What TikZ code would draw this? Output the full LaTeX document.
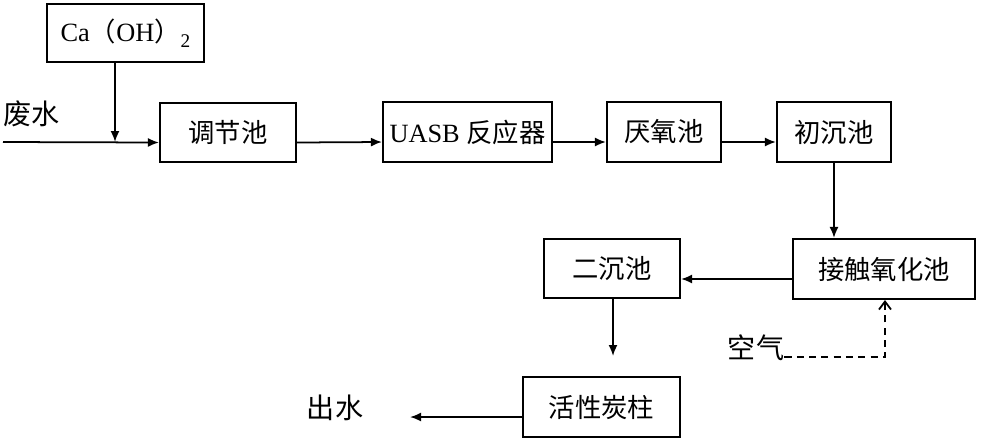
\documentclass[tikz,border=0pt]{standalone}
\usepackage{fontspec}
\setmainfont{Liberation Serif}
\newfontfamily\cjk{Noto Sans CJK SC}
\usetikzlibrary{arrows.meta}
\begin{document}
\begin{tikzpicture}[x=0.02cm,y=-0.02cm,
  box/.style={draw,line width=1.2pt,inner sep=0pt,font=\fontsize{15}{17}\selectfont},
  flow/.style={line width=1pt,-{Latex[length=2.2mm,width=1.8mm]}},
  airflow/.style={line width=1pt,dashed,dash pattern=on 4pt off 3pt,-{Straight Barb[length=1.6mm,width=2.4mm]}},
  lbl/.style={inner sep=0pt,font=\fontsize{16}{18}\selectfont\cjk}]
\useasboundingbox (0,0) rectangle (1000,441);
\node[box,minimum width=3.14cm,minimum height=1.16cm] (ca) at (125.5,33) {Ca{\cjk（}OH{\cjk）}\raisebox{-0.5ex}{\fontsize{11}{12}\selectfont 2}};
\node[box,minimum width=2.72cm,minimum height=1.18cm] (tj) at (228,132.5) {\cjk 调节池};
\node[box,minimum width=3.38cm,minimum height=1.2cm] (uasb) at (467.5,132) {UASB {\cjk 反应器}};
\node[box,minimum width=2.28cm,minimum height=1.2cm] (yy) at (664,132) {\cjk 厌氧池};
\node[box,minimum width=2.28cm,minimum height=1.2cm] (cc) at (834,132) {\cjk 初沉池};
\node[box,minimum width=3.64cm,minimum height=1.2cm] (jc) at (884,269) {\cjk 接触氧化池};
\node[box,minimum width=2.72cm,minimum height=1.18cm] (ec) at (612,268.5) {\cjk 二沉池};
\node[box,minimum width=3.14cm,minimum height=1.2cm] (hx) at (601.5,407) {\cjk 活性炭柱};
\node[lbl] (fs) at (32,114) {废水};
\node[lbl] (cs) at (335,408) {出水};
\node[lbl] (kq) at (756,348) {空气};
\coordinate (in) at (3,142);
\coordinate (j) at (115,142);
\coordinate (e1) at (613,356);
\coordinate (out) at (410,417);
\coordinate (a1) at (885,357);
\draw[flow] (ca.south -| j) -- (j);
\draw[flow] (in) -- ([yshift=-0.2cm]tj.west);
\draw[flow] ([yshift=-0.2cm]tj.east) -- ([yshift=-0.2cm]uasb.west);
\draw[flow] ([yshift=-0.2cm]uasb.east) -- ([yshift=-0.2cm]yy.west);
\draw[flow] ([yshift=-0.2cm]yy.east) -- ([yshift=-0.2cm]cc.west);
\draw[flow] (cc.south) -- (cc.south |- jc.north);
\draw[flow] ([yshift=-0.2cm]jc.west) -- ([yshift=-0.2cm]jc.west -| ec.east);
\draw[flow] (ec.south -| e1) -- (e1);
\draw[flow] ([yshift=-0.2cm]hx.west) -- (out);
\draw[airflow] (kq.east |- a1) -- (a1) -- (a1 |- jc.south);
\end{tikzpicture}
\end{document}
